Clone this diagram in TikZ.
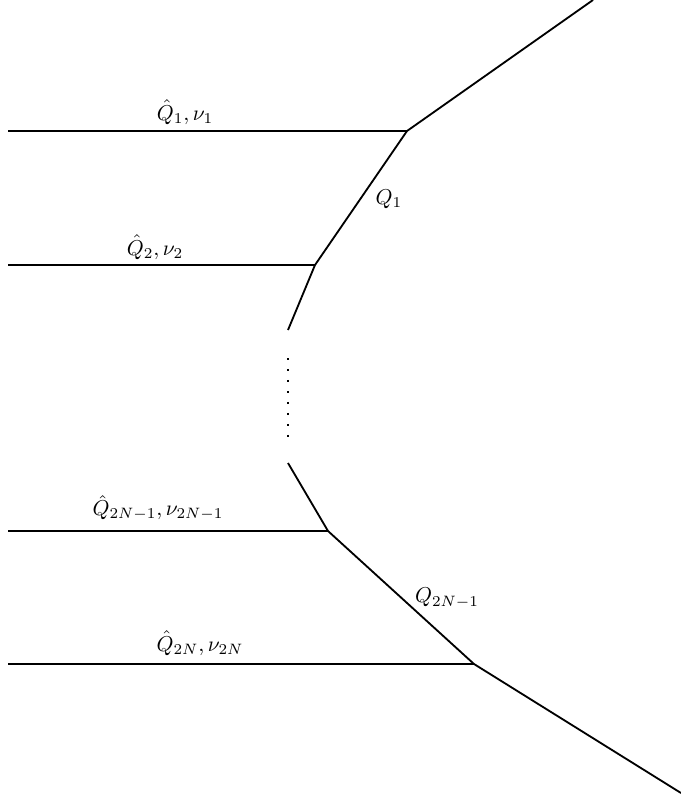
\documentclass[tikz,border=0pt]{standalone}
\begin{document}
\begin{tikzpicture}[x=0.465pt,y=-0.465pt,
  ln/.style={line width=0.85pt},
  lbl/.style={inner sep=0pt}]
\useasboundingbox (0,0) rectangle (681,803);
\coordinate (top) at (593,0);
\coordinate (v1) at (407,131);
\coordinate (v2) at (315,265);
\coordinate (e2) at (288,330);
\coordinate (d1) at (288,358);
\coordinate (d2) at (288,442);
\coordinate (e3) at (288,463);
\coordinate (v3) at (328,531);
\coordinate (v4) at (474,664);
\coordinate (bot) at (681,793);
\coordinate (l1) at (8,131);
\coordinate (l2) at (8,265);
\coordinate (l3) at (8,531);
\coordinate (l4) at (8,664);
\draw[ln] (top) -- (v1) -- (v2) -- (e2);
\draw[ln] (e3) -- (v3) -- (v4) -- (bot);
\draw[ln] (l1) -- (v1);
\draw[ln] (l2) -- (v2);
\draw[ln] (l3) -- (v3);
\draw[ln] (l4) -- (v4);
\draw[line width=0.9pt, dash pattern=on 0.9pt off 4.2pt] (d1) -- (d2);
\node[lbl] (t1) at (185,112) {$\hat{Q}_1,\nu_1$};
\node[lbl] (t2) at (155,247) {$\hat{Q}_2,\nu_2$};
\node[lbl] (t3) at (158,508) {$\hat{Q}_{2N-1},\nu_{2N-1}$};
\node[lbl] (t4) at (200,643) {$\hat{Q}_{2N},\nu_{2N}$};
\node[lbl] (q1) at (389,199) {$Q_1$};
\node[lbl] (q3) at (447,598) {$Q_{2N-1}$};
\end{tikzpicture}
\end{document}
